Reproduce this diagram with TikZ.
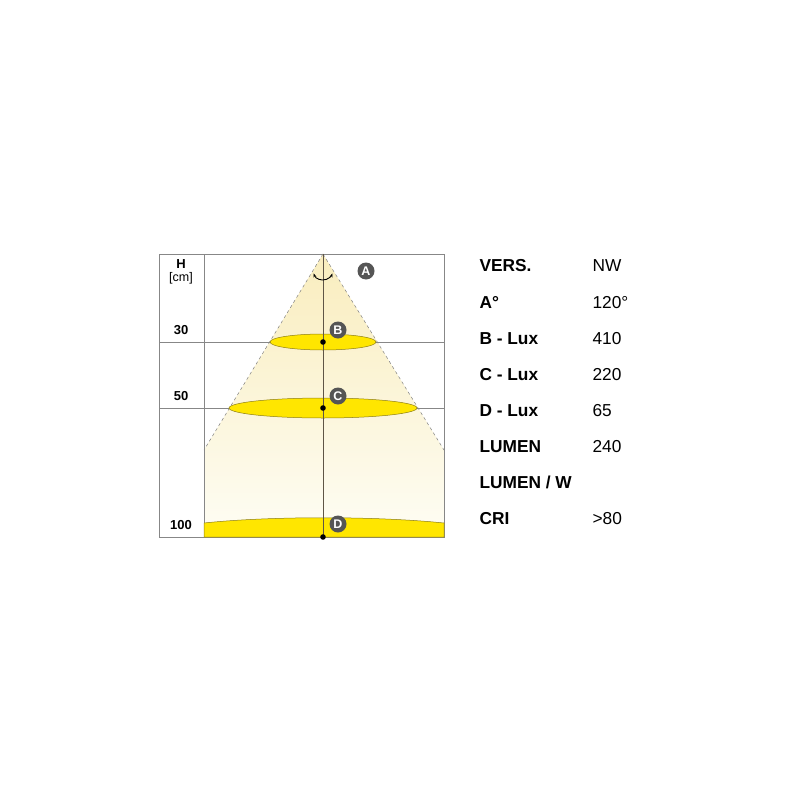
\documentclass[tikz,border=0pt]{standalone}
\usepackage{fontspec}
\setmainfont{Liberation Sans}
\usepackage{xcolor}
\usepackage{tikz}
\usetikzlibrary {arrows.meta}
\usetikzlibrary{calc}
\definecolor{lampyel}{RGB}{255,230,0}
\definecolor{lampedge}{RGB}{140,125,20}
\definecolor{conetop}{RGB}{249,237,190}
\definecolor{conebot}{RGB}{254,253,244}
\definecolor{gridgray}{RGB}{135,135,135}
\definecolor{axisgray}{RGB}{95,85,70}
\definecolor{markgray}{RGB}{85,85,85}
\tikzset{
  gridline/.style={draw=gridgray, line width=0.9pt},
  beamline/.style={draw=gray, line width=0.5pt, dash pattern=on 3pt off 3pt},
  spot/.style={fill=lampyel, draw=lampedge, line width=0.5pt},
  marker/.style={circle, fill=markgray, text=white, inner sep=0pt, minimum size=17pt, font=\fontsize{12.5}{12.5}\selectfont\bfseries},
  hlabel/.style={font=\fontsize{13}{13}\selectfont\bfseries},
  keytext/.style={anchor=west, font=\fontsize{17.3}{18}\selectfont\bfseries},
  valtext/.style={anchor=west, font=\fontsize{17.3}{18}\selectfont},
}

\begin{document}
\begin{tikzpicture}[x=1pt,y=-1pt]
\useasboundingbox (0,0) rectangle (800,800);
\coordinate (O) at (323,254);
\coordinate (L) at (204,450);
\coordinate (R) at (444,450);
\shade[top color=conetop, bottom color=conebot] (O) -- (L) -- (204,537) -- (444,537) -- (R) -- cycle;
\draw[beamline] (O) -- (L);
\draw[beamline] (O) -- (R);
\draw[gridline] (159,254) rectangle (444,537);
\draw[gridline] (204,254) -- (204,537);
\foreach \y in {342,408}{
    \draw[gridline] (159,\y) -- (444,\y);
}
\draw[spot] (323,342) ellipse[x radius=53, y radius=8];
\draw[spot] (323,408) ellipse[x radius=94, y radius=10];
\draw[spot] (204,523) .. controls (270,516) and (376,516) .. (444,523) -- (444,537) -- (204,537) -- cycle;
\draw[axisgray, line width=1pt] (O) -- (323,537);
\draw[{Stealth[length=4pt]}-{Stealth[length=4pt]}, line width=0.9pt] (313.6,273.4) arc [start angle=160, end angle=20, radius=10];
\foreach \y in {342,408,537}{
    \fill[black] (323,\y) circle[radius=2.8];
}
\node[marker] (mA) at (366,271) {A};
\node[marker] (mB) at (338,330) {B};
\node[marker] (mC) at (338,396) {C};
\node[marker] (mD) at (338,524) {D};
\node[hlabel] (hH) at (181,264) {H};
\node[font=\fontsize{12.5}{12.5}\selectfont] (hcm) at (181,278) {[cm]};
\node[hlabel] (h30) at (181,330) {30};
\node[hlabel] (h50) at (181,396) {50};
\node[hlabel] (h100) at (181,525) {100};
\foreach \k/\v [count=\i] in {VERS./NW, A°/120°, B - Lux/410, C - Lux/220, D - Lux/65, LUMEN/240, {LUMEN / W}/{}, CRI/>80}{
    \node[keytext] (key\i) at (476,266+36.1*\i-36.1) {\k};
    \node[valtext] (val\i) at (589,266+36.1*\i-36.1) {\v};
}
\end{tikzpicture}
\end{document}
